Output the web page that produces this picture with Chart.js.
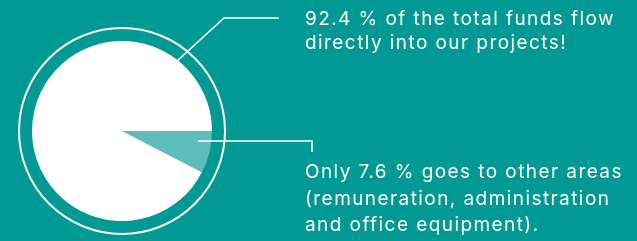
<!DOCTYPE html>
<html>
<head>
<meta charset="utf-8">
<script src="https://cdn.jsdelivr.net/npm/chart.js@4/dist/chart.umd.min.js"></script>
<style>
  html, body { margin: 0; padding: 0; background: #009994; width: 637px; height: 241px; overflow: hidden; }
  #wrap { position: absolute; left: 0; top: 0; width: 637px; height: 241px; }
  .txt { position: absolute; color: #ffffff; font-family: Inter, "Open Sans", sans-serif; font-size: 19px; white-space: nowrap; }
  #t1 { left: 305px; top: 7px; line-height: 24px; }
  #t2 { left: 305px; top: 159px; line-height: 26.5px; }
</style>
</head>
<body>
<div id="wrap"><canvas id="c" width="637" height="241"></canvas></div>
<div class="txt" id="t1"><span id="m">92.4 % of the total funds flow</span><br>directly into our projects!</div>
<div class="txt" id="t2">Only 7.6 % goes to other areas<br>(remuneration, administration<br>and office equipment).</div>
<script>
const categories = ["Other areas (remuneration, administration, office equipment)", "Projects"];
const shares = [7.6, 92.4];
const colors = ["#5dbdbb", "#ffffff"];

// stretch the text to the reference's line width (wide typeface)
(function fit() {
  const m = document.getElementById('m');
  const txt = m.textContent;
  const w = m.getBoundingClientRect().width;
  const ls = (310 - w) / txt.length;
  document.getElementById('t1').style.letterSpacing = ls + 'px';
  document.getElementById('t2').style.letterSpacing = ls + 'px';
})();

const ringAndLeaders = {
  id: 'ringAndLeaders',
  afterDatasetsDraw(chart) {
    const arc = chart.getDatasetMeta(0).data[0];
    const cx = arc.x, cy = arc.y, r = arc.outerRadius;
    const ctx = chart.ctx;
    ctx.save();
    ctx.strokeStyle = '#ffffff';
    ctx.lineWidth = 2;
    ctx.beginPath();
    ctx.arc(cx, cy, r + 13, 0, Math.PI * 2);
    ctx.stroke();
    ctx.lineWidth = 1.5;
    const a1 = -51.7 * Math.PI / 180;
    const p1x = cx + r * Math.cos(a1), p1y = cy + r * Math.sin(a1);
    ctx.beginPath();
    ctx.moveTo(p1x, p1y);
    ctx.lineTo(cx + 102, cy - 113);
    ctx.lineTo(cx + 157, cy - 113);
    ctx.stroke();
    const a2 = 7.5 * Math.PI / 180;
    const p2x = cx + r * 0.85 * Math.cos(a2), p2y = cy + r * 0.85 * Math.sin(a2);
    ctx.beginPath();
    ctx.moveTo(p2x, p2y);
    ctx.lineTo(cx + 190, p2y);
    ctx.lineTo(cx + 190, p2y + 11);
    ctx.stroke();
    ctx.restore();
  }
};

new Chart(document.getElementById('c'), {
  type: 'pie',
  data: {
    labels: categories,
    datasets: [{ data: shares, backgroundColor: colors, borderWidth: 0 }]
  },
  options: {
    responsive: false,
    animation: false,
    rotation: 90,
    layout: { padding: { left: 32, right: 425, top: 41, bottom: 20 } },
    plugins: { legend: { display: false }, tooltip: { enabled: false } }
  },
  plugins: [ringAndLeaders]
});
</script>
</body>
</html>
